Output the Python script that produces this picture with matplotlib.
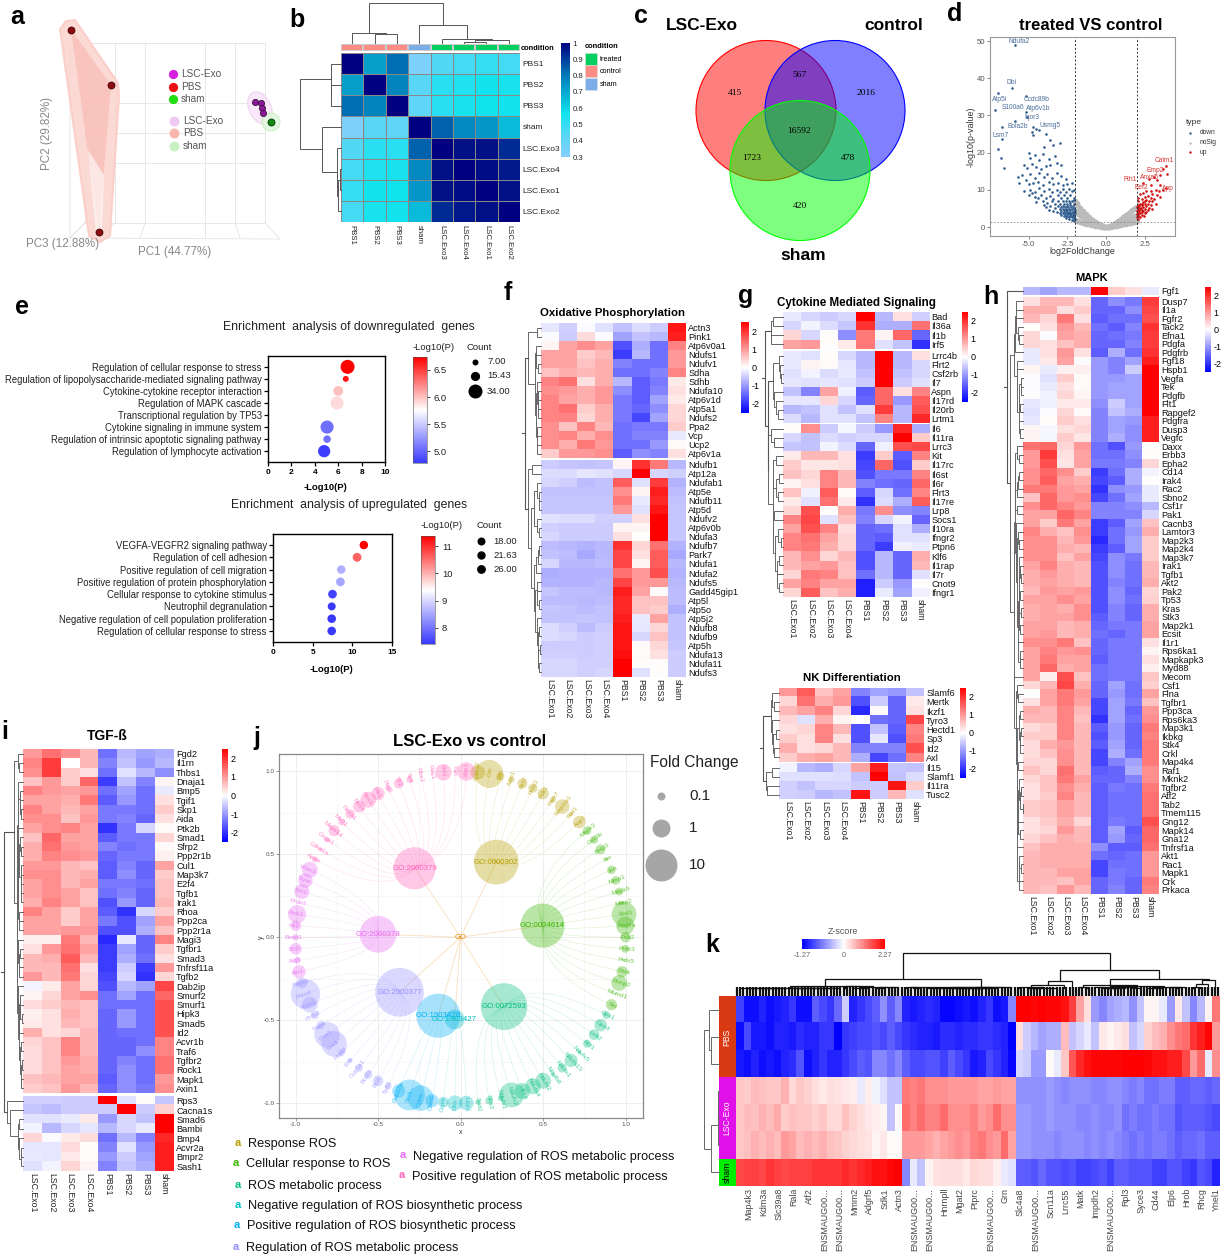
import numpy as np
import matplotlib
matplotlib.use('Agg')
from matplotlib import pyplot as plt
from matplotlib.colors import LinearSegmentedColormap, Normalize, TwoSlopeNorm, ListedColormap
from matplotlib.cm import ScalarMappable
from matplotlib.patches import Circle, Ellipse, Polygon, PathPatch, Rectangle
from matplotlib.path import Path

plt.rcParams['font.family'] = ['Liberation Sans', 'DejaVu Sans']
plt.rcParams['axes.unicode_minus'] = False

# panel a
pbs_x = [71, 111, 99]
pbs_y = [30, 85, 232]
exo_x = [255, 261, 262, 263]
exo_y = [102, 103, 108, 113]
sham_x = [271]
sham_y = [122]
a_legend = ['LSC-Exo', 'PBS', 'sham']

# panel b
b_labels = ['PBS1', 'PBS2', 'PBS3', 'sham', 'LSC.Exo3', 'LSC.Exo4', 'LSC.Exo1', 'LSC.Exo2']
b_corr = [[1, .72, .82, .33, .45, .47, .5, .47],
          [.72, 1, .78, .43, .52, .54, .56, .55],
          [.82, .78, 1, .41, .52, .55, .57, .56],
          [.33, .43, .41, 1, .84, .77, .74, .66],
          [.45, .52, .52, .84, 1, .97, .97, .93],
          [.47, .54, .55, .77, .97, 1, .98, .96],
          [.5, .56, .57, .74, .97, .98, 1, .97],
          [.47, .55, .56, .66, .93, .96, .97, 1]]
b_cond = [1, 1, 1, 2, 0, 0, 0, 0]

# panel c
venn_counts = ['415', '567', '2016', '16592', '1723', '478', '420']

# panel d
down_pts = [(-5.9,49),(-6.1,37.5),(-7,36),(-5.2,35.3),(-7.2,31.5),(-5.2,31),(-5.1,29.7),(-5.9,28.5),(-4.7,27),(-6.7,27),
 (-4.5,26.5),(-4.3,26),(-4.8,25.5),(-4.7,24.7),(-3.9,25),(-6.7,23.7),(-3.6,23.5),(-4.0,21.5),(-7.0,21),(-3.0,22.5),
 (-3.4,22),(-6.8,18.5),(-6.6,16),(-5.0,20),(-4.9,18.5),(-4.6,19.5),(-4.3,18),(-4.1,19.6),(-3.7,18.3),(-3.3,19),
 (-5.3,16.8),(-5.1,16),(-4.8,17),(-4.5,16.2),(-4.2,15.6),(-3.9,16.4),(-3.6,16.8),(-3.2,17.1),(-2.9,16.6),(-5.7,13.5),
 (-5.4,13.9),(-5.2,12.6),(-4.9,14.3),(-4.6,13.2),(-4.3,14.5),(-4.0,13.4),(-3.8,14.4),(-3.5,13.1),(-3.2,14.6),(-2.9,13.8),
 (-2.6,12.9),(-5.6,11.9),(-5.0,11.6),(-4.7,11.9),(-4.4,12.1),(-4.1,11.3),(-3.7,12.2),(-3.4,11.5),(-3.1,11.9),(-2.8,11.2),
 (-2.5,11.6),(-2.2,11.9),(-5.3,9.8),(-4.9,10.1),(-4.6,9.4),(-4.3,10.4),(-4.0,9.7),(-3.7,10.3),(-3.5,9.3),(-3.2,10.1),
 (-3.0,9.5),(-2.8,10.2),(-2.6,9.4),(-2.4,10.3),(-2.2,9.6),(-2.1,10.1),(-5.0,8.7),(-4.6,8.1),(-4.2,8.6),(-3.9,7.9),
 (-3.6,8.4),(-3.4,7.6),(-3.1,8.6),(-2.9,7.8),(-2.7,8.5),(-2.5,7.7),(-2.3,8.6),(-2.1,7.9),(-4.5,6.8),(-4.1,7.1),
 (-3.8,6.4),(-3.5,6.9),(-3.3,6.2),(-3.1,7.0),(-3.0,6.3),(-2.8,6.9),(-2.7,6.1),(-2.6,7.0),(-2.5,6.3),(-2.4,7.1),
 (-2.3,6.5),(-2.2,7.0),(-2.1,6.2),(-2.05,7.2),(-3.9,5.3),(-3.6,5.6),(-3.3,5.1),(-3.1,5.6),(-3.0,4.9),(-2.9,5.5),
 (-2.8,4.8),(-2.75,5.6),(-2.7,4.6),(-2.65,5.4),(-2.6,4.9),(-2.55,5.7),(-2.5,4.6),(-2.45,5.4),(-2.4,4.9),(-2.35,5.8),
 (-2.3,4.5),(-2.25,5.3),(-2.2,4.8),(-2.15,5.6),(-2.1,4.4),(-2.05,5.2),(-2.0,4.7),(-3.2,4.0),(-3.0,3.9),(-2.9,4.2),
 (-2.8,3.8),(-2.7,4.1),(-2.65,3.6),(-2.6,4.2),(-2.55,3.7),(-2.5,3.9),(-2.45,3.4),(-2.4,4.1),(-2.35,3.6),(-2.3,3.9),
 (-2.25,3.3),(-2.2,4.0),(-2.15,3.5),(-2.1,3.8),(-2.05,3.2),(-2.0,3.9),(-2.7,3.1),(-2.6,2.9),(-2.5,3.1),(-2.4,2.7),
 (-2.3,3.0),(-2.2,2.6),(-2.15,2.9),(-2.1,2.4),(-2.05,2.8),(-2.0,2.2),(-2.4,2.1),(-2.2,1.9),(-2.05,1.6),(-2.6,2.4),
 (-2.9,3.3),(-3.4,4.4),(-3.7,4.6),(-4.0,6.0),(-4.4,7.7),(-4.8,9.2)]
up_pts = [(3.85,16.5),(3.7,15.6),(3.95,14.4),(3.5,14.1),(3.1,13.4),(3.3,12.6),(2.75,12.9),(2.4,11.9),(2.9,11.3),(3.5,11.2),
 (3.9,10.6),(3.2,10.1),(2.6,9.8),(3.7,9.9),(3.4,9.7),(2.9,9.6),(2.4,9.2),(2.2,8.9),(3.0,8.8),(3.3,8.5),
 (3.5,8.0),(2.7,8.3),(2.5,8.1),(2.1,7.9),(2.9,7.7),(3.1,7.6),(2.3,7.5),(2.6,7.2),(2.8,7.1),(3.0,6.9),
 (2.1,6.9),(2.4,6.8),(3.2,6.3),(2.2,6.3),(2.5,6.2),(2.7,6.3),(2.9,6.0),(2.05,6.0),(2.3,5.9),(2.6,5.6),
 (2.0,5.5),(2.15,5.6),(2.4,5.3),(2.8,5.2),(3.0,4.8),(2.05,5.0),(2.2,4.9),(2.5,4.8),(2.7,4.5),(2.1,4.6),
 (2.3,4.5),(2.0,4.3),(2.15,4.2),(2.35,4.1),(2.5,3.9),(2.05,3.9),(2.2,3.8),(2.0,3.5),(2.1,3.4),(2.3,3.3),
 (2.45,3.0),(2.05,2.9),(2.2,2.6),(2.1,2.2),(2.0,2.6),(2.6,4.0),(2.4,4.4),(2.25,5.2),(2.55,6.9),(2.35,6.3)]
gray_x = [-2,-1.9,-1.8,-1.7,-1.6,-1.5,-1.4,-1.3,-1.2,-1.1,-1,-.9,-.8,-.7,-.6,-.5,-.4,-.3,-.2,-.1,0,
          .1,.2,.3,.4,.5,.6,.7,.8,.9,1,1.1,1.2,1.3,1.4,1.5,1.6,1.7,1.8,1.9,2]
gray_hi = [7,6.4,5.6,5.2,4.7,4.2,3.9,3.4,3,2.6,2.3,2,1.7,1.4,1.1,.9,.65,.45,.25,.1,.05,
           .1,.2,.4,.6,.85,1.1,1.4,1.7,2,2.3,2.6,3,3.3,3.6,3.9,4.2,4.5,4.8,5.1,5.4]
gray_mid = [4.3,4,3.6,3.2,2.9,2.6,2.3,2.1,1.9,1.6,1.4,1.2,1,.85,.7,.55,.4,.28,.15,.07,.03,
            .07,.13,.25,.38,.52,.68,.85,1,1.25,1.4,1.6,1.85,2,2.2,2.4,2.6,2.8,3,3.1,3.3]
gray_lo = [1.8,1.7,1.6,1.4,1.3,1.2,1.05,.95,.85,.75,.65,.55,.45,.4,.32,.25,.18,.12,.07,.03,.01,
           .03,.06,.11,.17,.24,.31,.38,.46,.55,.65,.72,.82,.92,1,1.1,1.18,1.28,1.36,1.45,1.55]
d_gene = ['Ndufa2','Dbi','Ccdc89b','Atp5i','S100a6','Atp6v1b','Iqor3','Bola2b','Usmg5','Lsm7']
d_gene_x = [-5.6,-6.1,-4.5,-6.9,-6.0,-4.4,-4.8,-5.7,-3.6,-6.8]
d_gene_y = [50,38.8,34.4,34.4,32.2,32,29.5,27,27.2,24.7]
u_gene = ['Calm1','Emp2','Fth1','Anxa5','Eef2','App']
u_gene_x = [3.75,3.2,1.55,2.8,2.3,4.0]
u_gene_y = [17.8,15.3,12.9,13.2,10.7,10.5]

# panel e
e1_terms = ['Regulation of cellular response to stress','Regulation of lipopolysaccharide-mediated signaling pathway',
            'Cytokine-cytokine receptor interaction','Regulation of MAPK cascade','Transcriptional regulation by TP53',
            'Cytokine signaling in immune system','Regulation of intrinsic apoptotic signaling pathway',
            'Regulation of lymphocyte activation']
e1_p = [6.8,6.65,6.0,5.9,5.75,5.05,5.05,4.8]
e1_count = [34,7,20,31,22,31,12,28]
e2_terms = ['VEGFA-VEGFR2 signaling pathway','Regulation of cell adhesion','Positive regulation of cell migration',
            'Positive regulation of protein phosphorylation','Cellular response to cytokine stimulus',
            'Neutrophil degranulation','Negative regulation of cell population proliferation',
            'Regulation of cellular response to stress']
e2_p = [11.45,10.6,8.6,8.5,7.5,7.4,7.4,7.4]
e2_count = [23,26,23,25,25,18,24,24]

cols_exo = ['LSC.Exo1','LSC.Exo2','LSC.Exo3','LSC.Exo4','PBS1','PBS2','PBS3','sham']

# panel f
f_genes1 = ['Actn3','Pink1','Atp6v0a1','Ndufs1','Ndufv1','Sdha','Sdhb','Ndufa10','Atp6v1d','Atp5a1','Ndufs2','Ppa2','Vcp','Ucp2','Atp6v1a']
f_vals1 = [[-.25,-.45,-.05,-.3,-.6,-.35,-.5,2.3],[-.05,-.5,.35,-.05,-.9,-.6,-.7,2.2],[.1,.9,1.1,.9,-1.7,-.8,-1.4,1.2],
 [.9,.9,.5,.7,-1.9,-.7,-1.4,1],[.9,.9,.6,.8,-1.2,-1.4,-1.4,1],[.6,.8,.7,.8,-1.4,-1.4,-1.2,1.2],[1.2,1.4,.3,.8,-.7,-1.6,-1.3,.2],
 [1.1,1,.8,1,-1.1,-1.6,-1.2,.3],[1.2,.9,.8,1,-1.3,-1.6,-.9,.2],[1.2,1.4,.5,.8,-1.3,-1.5,-1.1,.4],[1.2,1.2,.4,.8,-1.3,-1.8,-.9,.4],
 [1.1,.6,1.2,.7,-1.4,-1.3,-1.3,.5],[1.1,1.2,.8,1.1,-1.4,-1.2,-1.2,-.2],[1.1,.8,1.3,1,-1.4,-1.4,-1,.05],[.5,1,1,1.1,-1.6,-1.1,-1.2,.3]]
f_genes2 = ['Ndufb1','Atp12a','Ndufab1','Atp5e','Ndufb11','Atp5d','Ndufv2','Atp6v0b','Ndufa3','Ndufb7','Park7','Ndufa1','Ndufa2','Ndufs5',
            'Gadd45gip1','Atp5l','Atp5o','Atp5j2','Ndufb8','Ndufb9','Atp5h','Ndufa13','Ndufa11','Ndufs3']
f_vals2 = [[-.5,-.55,-.6,-.55,.1,2,1.3,-.7],[-.35,-.35,-.25,-.3,-.4,2.5,-.4,-.45],[-.4,-.45,-.65,-.6,1.6,-.3,1.9,-.75],
 [-.6,-.6,-.6,-.6,1.1,.1,2.2,-.65],[-.55,-.55,-.55,-.55,1.3,-.2,2.1,-.6],[-.55,-.55,-.55,-.55,1,-.3,2.3,-.55],
 [-.3,-.35,-.35,-.45,-.45,.3,2.5,-.55],[-.45,-.5,-.5,-.5,.1,.1,2.5,-.55],[-.4,-.5,-.5,-.5,.3,0,2.5,-.55],
 [-.65,-.7,-.75,-.7,2,.4,1.4,-.75],[-.6,-.65,-.85,-.7,1.8,.3,1.6,-.85],[-.4,-.7,-.7,-.65,1.8,.1,1.6,-.7],
 [-.8,-.75,-.75,-.75,1.4,1,1.7,-.75],[-.75,-.75,-.75,-.7,1.8,1,1,-.7],[-.55,-.65,-.65,-.7,2.2,.9,.05,-.65],
 [-.65,-.65,-.7,-.65,2.1,.6,.6,-.65],[-.55,-.6,-.65,-.6,2.1,.6,.5,-.8],[-.6,-.6,-.55,-.6,2.2,-.2,.9,-.6],
 [-.35,-.45,-.65,-.5,2.3,-.25,.4,-.6],[-.35,-.4,-.5,-.45,2.3,-.4,.6,-.6],[-.5,-.5,-.5,-.45,2.3,.05,.4,-.55],
 [-.45,-.45,-.5,-.45,2.35,.05,.3,-.5],[-.4,-.4,-.45,-.45,2.5,.02,.02,-.5],[-.4,-.4,-.45,-.4,2.5,-.3,.02,-.5]]

# panel g
g_genes1 = ['Bad','Il36a','Il1b','Irf5']
g_vals1 = [[-.2,-.4,-.5,-.4,2.5,-.7,.3,-.45],[-.4,-.1,-.35,-.55,2,-.8,-.8,1.4],[.4,-.4,.02,-1.1,1.3,.1,1.5,-1.5],[.9,1,.03,.2,1.3,-.3,-.6,-2]]
g_genes2 = ['Lrrc4b','Flrt2','Csf2rb','Il7','Aspn','Il17rd','Il20rb','Lrtm1']
g_vals2 = [[-.2,-.3,.03,-.4,-.7,2.5,-.7,.3],[-.2,.1,.05,-.25,-.7,2.5,-.7,-.4],[-.3,-.1,-.35,-.2,-.6,2.5,-.6,-.4],[-.25,-.3,-.25,-.3,-.5,2.5,-.5,-.3],
 [-.6,-1.2,.9,-.15,-1.6,1.5,.3,1.2],[-.25,-.25,.4,-.4,-1.5,1.5,-1,1.6],[-.7,-.6,-.3,-.6,-.3,1.9,-.7,1.7],[-.35,-.7,-.3,-.3,-.6,1.2,-.7,2.1]]
g_genes3 = ['Il6','Il11ra','Lrrc3','Kit','Il17rc','Il6st','Il6r','Flrt3','Il17re','Lrp8','Socs1','Il10ra','Ifngr2','Ptpn6','Klf6','Il1rap','Il7r','Cnot9','Ifngr1']
g_vals3 = [[.03,1.1,-.5,-.08,-.5,-1,2.1,-.8],[-.4,-.6,-.35,-.45,-.4,-.4,2.5,.5],[-.55,-.6,-.1,-.35,-1.5,-.15,1.7,1.8],
 [.2,.7,.7,.3,-1.9,.5,-1.6,1.2],[.5,.25,.25,.3,-1.8,1.5,-1.7,.5],[.6,.4,1.2,.7,-1.7,-1.3,-1.3,1.2],[.1,.3,1.2,.7,-1.2,-1.4,-1.5,1.5],
 [.6,-.15,1.6,.05,-1.6,-.4,-1.4,1.2],[.2,-.3,1.4,.2,-2,-.35,-.8,1.6],[.4,1.7,.02,.8,-1.3,1.1,-1.1,-1.2],[1.2,1.8,-.3,.6,-1.2,-.4,-.1,-1.5],
 [.9,1.7,1.2,.3,-1.5,-1.4,-.3,-.8],[1.2,1.4,.9,.4,-1.5,-1.6,-.3,-.3],[1.2,1.3,.8,.4,-1.5,-1.9,-.15,-.2],[.7,1.1,.4,.7,-1.7,-.7,-1.5,.8],
 [.7,.9,1,.6,-1.7,-.7,-1.5,.7],[.4,1.3,1.2,.6,-1.4,-.7,-1.5,-.3],[.9,1.2,.9,.9,-2.2,-.5,-1,.03],[.4,1.6,.6,.8,-2.2,-.2,-.9,-.15]]

# NK differentiation
nk_genes1 = ['Slamf6','Mertk','Ikzf1','Tyro3','Hectd1','Sp3','Id2','Axl']
nk_vals1 = [[1,1.6,.6,.9,-1.2,-.9,-1,-.6],[.4,1.4,.8,1,-1.7,-.5,-1.5,.2],[.7,.9,1.2,.4,-2.1,.05,-1.5,.3],[.4,-.3,.8,.1,.02,-1.4,-1.5,1.8],
 [.3,.4,1.2,.7,-1.7,-.6,-1.6,1.2],[.5,.3,1.2,.3,-1.7,-.25,-1.7,1.3],[.8,.3,.4,.7,-1.2,-1.2,-1.2,1.7],[.5,.8,.9,.7,-.8,-1.8,-1.4,1.2]]
nk_genes2 = ['Il15','Slamf1','Il11ra','Tusc2']
nk_vals2 = [[-.1,-.7,-.8,-.4,.9,2.2,-.55,-.6],[-.3,-.3,-.3,-.35,-.6,2.5,-.6,-.35],[-.45,-.6,-.4,-.4,-.5,-.5,2.3,.5],[-.45,-.5,-.7,-.6,2.3,-.5,.7,-.3]]

# panel h
h_genes1 = ['Fgf1']
h_vals1 = [[-.7,-.9,-.7,-.7,2.5,.5,.3,-.2]]
h_genes2 = ['Dusp7','Il1a','Fgfr2','Tack2','Efna1','Pdgfa','Pdgfrb','Fgf18','Hspb1','Vegfa','Tek','Pdgfb','Flt1','Rapgef2','Pdgfra','Dusp3','Vegfc',
 'Daxx','Erbb3','Epha2','Cd14','Irak4','Rac2','Sbno2','Csf1r','Pak1','Cacnb3','Lamtor3','Map2k3','Map2k4','Map3k7','Irak1','Tgfb1','Akt2',
 'Pak2','Tp53','Kras','Stk3','Map2k1','Ecsit','Il1r1','Rps6ka1','Mapkapk3','Myd88','Mecom','Csf1','Flna','Tgfbr1','Ppp3ca','Rps6ka3','Map3k1',
 'Ikbkg','Stk4','Crkl','Map4k4','Raf1','Mknk2','Tgfbr2','Atf2','Tab2','Tmem115','Gng12','Mapk14','Gna12','Tnfrsf1a','Akt1','Rac1','Mapk1','Crk','Prkaca']
h_vals2 = [[.3,.7,.7,.3,-1.5,-1.1,-1.3,1.9],[.8,.8,.3,.5,-1.5,-1.5,-1.1,1.8],[.7,.4,1.3,.3,-1.6,-1.4,-1.4,1.7],[.02,.3,1,.7,-1.4,-1.6,-1.2,2],
 [.4,-.05,.9,.8,-1.5,-1.4,-1.3,1.9],[.4,.3,.6,.8,-1.5,-1.5,-1.2,1.9],[-.2,.3,1,.3,-1.6,-.8,-1.4,2],[-.2,.2,.9,-.02,-1,-1.2,-.9,2.2],
 [.1,-.2,.15,.15,-1,-1.2,-.5,2.5],[-.05,-.3,.5,.05,-1,-1,-.9,2.5],[-.03,-.2,.3,.05,-1,-.9,-.9,2.5],[-.03,-.1,.4,.1,-1,-.9,-.9,2.5],
 [-.25,-.15,.2,.2,-1.1,-.5,-.9,2.5],[-.3,-.05,.4,.05,-1.2,-.6,-.8,2.5],[-.25,.03,.5,.3,-1.2,-.9,-1,2.2],[.1,-.08,.3,.4,-1.2,-.9,-1.1,2.2],
 [.1,-.08,.5,.25,-1.2,-.8,-1.1,2.2],[1.4,1.5,.4,1,-1.4,-1.7,-1,.02],[1,1.9,.3,.9,-1.4,-1.4,-1.1,.02],[1,1.7,.25,.9,-1.3,-1.3,-1.2,.4],
 [1.1,1.5,1.1,.5,-1.9,-1.4,-.8,-.1],[1.1,1.6,.9,.8,-1.8,-1.6,-.8,.03],[1.3,1.3,1,.9,-2,-1.1,-1,-.2],[.6,1.5,1,1.1,-1.8,-1.4,-.9,-.2],
 [1.1,1.5,1.2,1,-1.2,-1.2,-1.1,-.7],[.9,.9,1.5,1.2,-1.2,-1.2,-1.2,-.4],[.9,.5,1.3,.9,-1.9,-1.6,-.9,.6],[1.2,.8,.6,1.1,-1.9,-1.4,-1,.8],
 [1.1,1.1,.7,1,-2.1,-1.4,-.9,.5],[1.1,1.1,.8,.7,-1.9,-1.6,-.9,.5],[1.1,1.1,.6,.9,-1.8,-1.1,-1.3,.5],[.9,1.2,.8,.7,-1.7,-1.1,-1.4,.7],
 [.8,1,.8,.7,-1.7,-1.1,-1.4,.7],[.8,.9,.8,.7,-1.7,-1.2,-1.4,.8],[.7,1,.9,1,-1.7,-1.1,-1.5,.4],[.9,.9,1.1,.9,-1.7,-1.1,-1.4,.45],
 [.8,.9,.8,1.1,-1.7,-1.2,-1.5,.8],[.8,.9,.9,1.1,-1.6,-1.2,-1.5,.8],[.9,.9,.7,.8,-1.5,-1.3,-1.3,.9],[.9,1,.7,.8,-1.4,-1.5,-1.3,.9],
 [1.1,1.1,1.3,.6,-1.5,-1.3,-1.3,.3],[.9,1.2,1,1.1,-1.5,-1.3,-1.3,.1],[.9,1.3,.9,.9,-1.6,-1.3,-1.3,.3],[.9,1.5,.8,.9,-1.4,-1.3,-1.3,.15],
 [.9,.15,1.7,.6,-1.4,-1.3,-1.3,.55],[.4,.7,1.8,.8,-1.5,-.9,-1.4,.45],[.01,.9,1.3,1,-1.5,-1,-1.4,.9],[.3,.9,1.3,.9,-1.8,-.9,-1.3,.6],
 [.8,.7,1.2,.7,-1.8,-.9,-1.5,1],[.7,.7,1.2,.6,-2,-.9,-1.4,1.1],[.35,.5,1.2,.7,-1.6,-1,-1.5,1.3],[.5,.5,1.2,.7,-1.7,-1,-1.5,1.2],
 [.35,.8,1,.7,-1.6,-.9,-1.5,1.3],[.35,.6,1.1,.7,-1.8,-.8,-1.4,1.3],[.4,.4,1.1,.7,-1.8,-1.2,-.9,1.3],[.6,.4,1.4,.7,-1.6,-1.5,-.8,1.1],
 [.4,.6,1.3,.9,-1.5,-1.5,-1.2,1.1],[.3,.6,1.1,.8,-1.6,-1.3,-1.4,1.3],[.3,.5,1.2,.7,-1.6,-1.4,-1.4,1.4],[.5,.6,.9,.7,-1.6,-1.4,-1.4,1.4],
 [.5,.6,.9,.7,-1.6,-1.4,-1.4,1.4],[.3,.5,.8,.4,-1.6,-1.3,-1.4,1.7],[.3,.4,1,.7,-1.6,-.9,-1.6,1.5],[.4,.6,.8,.7,-1.6,-1,-1.5,1.5],
 [.6,.8,.8,.8,-1.1,-1.6,-1.6,1.4],[.7,.8,.8,.8,-1.4,-1.5,-1.4,1],[.7,.8,.8,.8,-1.8,-1.4,-1.4,1],[.7,.7,.9,.9,-1.8,-1.3,-1.4,1],
 [.7,.7,.6,.9,-1.5,-1.3,-1.5,1.3],[.7,.6,1,.7,-1.5,-1.2,-1.5,1.2]]

# panel i
i_genes1 = ['Fgd2','Il1rn','Thbs1','Dnaja1','Bmp5','Tgif1','Skp1','Aida','Ptk2b','Smad1','Sfrp2','Ppp2r1b','Cul1','Map3k7','E2f4','Tgfb1','Irak1',
 'Rhoa','Ppp2ca','Ppp2r1a','Magi3','Tgfbr1','Smad3','Tnfrsf11a','Tgfb2','Dab2ip','Smurf2','Smurf1','Hipk3','Smad5','Id2','Acvr1b','Traf6','Tgfbr2','Rock1','Mapk1','Axin1']
i_vals1 = [[1,1.4,1.1,.7,-1.4,-.7,-.9,-.8],[1.2,1.9,.01,.7,-1.2,-.6,-1,-.7],[1.1,1.9,.5,.3,-1.4,-.3,-.7,-1.1],[.6,1,.5,1.5,-1.9,-.6,-1.2,.1],
 [1.2,1,.9,1,-1.4,-.9,-1.4,-.2],[.9,.9,.8,1.3,-1.6,-1,-1.4,.3],[1.2,.9,.7,.9,-1.3,-1.3,-1.4,.5],[1.1,1.1,.6,1,-1.3,-1.2,-1.5,.3],
 [.9,1.1,1.2,.9,-2,-1.3,-.4,.05],[.6,1.5,.9,.9,-1.6,-1.3,-1.3,.4],[.8,1.4,1,.9,-1.2,-1.4,-1.3,.05],[.8,1.2,1.1,1,-1.5,-1.3,-1.3,.15],
 [1,1,.7,.6,-1.6,-1.2,-1.5,.9],[1.1,1.1,.7,.8,-1.6,-1.1,-1.5,.5],[.9,1.1,.7,.9,-1.3,-1.3,-1.4,.6],[.9,1.1,.9,.6,-1.4,-1.2,-1.5,.6],
 [.8,1.2,.9,.6,-1.7,-1,-1.5,.7],[1.2,.9,.5,.9,-1.6,-2,-.4,.5],[.9,.9,.5,.9,-1.3,-1.7,-.9,.9],[.9,.9,1,1,-1.7,-1.7,-.8,.6],
 [.15,.15,1.3,.7,-2.1,-.2,-1.5,1.2],[.3,1,1.4,.9,-1.9,-.9,-1.5,.5],[.7,.8,1.6,.7,-1.9,-.8,-1.4,.3],[.7,.7,1.4,.3,-1.9,-.5,-1.9,1],
 [1,.7,1.3,.4,-1.8,-.4,-2,.4],[-.1,.2,.9,.4,-1.7,-.7,-.9,1.8],[.1,.4,.9,1.1,-1.4,-.9,-1.4,1.5],[.35,.5,.7,.6,-1.4,-1.4,-1.4,1.7],
 [.15,.3,.8,.6,-1.5,-1,-1.4,1.7],[.2,.3,.7,.6,-1.5,-1,-1.4,1.7],[.8,.3,.4,.7,-1.5,-1.4,-1.4,1.7],[.4,.6,1.2,.7,-1.5,-1.5,-1.4,1.2],
 [.35,.6,1.2,.7,-1.5,-1.5,-1.1,1.2],[.35,.6,1,.8,-1.5,-1.2,-1.4,1.4],[.35,.6,.9,.8,-1.5,-1.1,-1.4,1.4],[.6,.7,.9,.9,-1.6,-1.1,-1.4,1],[.5,.6,1,.7,-1.5,-1.1,-1.3,1.1]]
i_genes2 = ['Rps3','Cacna1s','Smad6','Bambi','Bmp4','Acvr2a','Bmpr2','Sash1']
i_vals2 = [[-.45,-.45,-.5,-.5,2.5,-.3,.03,-.55],[-.55,-.65,-.5,-.5,-.5,2.5,-.5,.45],[-.3,-.3,-.2,.2,-1,-.4,-.6,2.5],[-.1,-.7,-.4,-.25,-.7,-.4,-.2,2.5],
 [.4,-.05,.2,.35,-1.4,-.7,-1.2,2.1],[-.25,-.25,.35,.02,-1.2,-.3,-1,2.2],[-.2,-.25,.2,.02,-1,-.5,-.9,2.2],[-.3,-.1,.4,.1,-1.2,-.55,-.8,2.2]]

# panel j
parent_names = ['GO:0000302','GO:0034614','GO:0072593','GO:1903427','GO:1903428','GO:2000377','GO:2000378','GO:2000379']
parent_x = [.216,.497,.263,-.036,-.135,-.37,-.50,-.279]
parent_y = [.453,.07,-.418,-.495,-.473,-.332,.018,.416]
parent_size = [13.5,13.3,14.1,6,13.3,14.7,11.1,12.7]
group_colors = ['#b79f00','#39b600','#00bf7d','#00bfc4','#00b0f6','#9590ff','#e76bf3','#ff62bc']
group_counts = [11,17,15,3,4,13,10,17]
leaf_names = ['Ankrd2','Cat','Gsr','Aifm1','Ncf2','Prdx3','Pdk1','Park7','Serpine1','Sod1','Aqp1',
 'Mapk3','Gsk3b','Bnip3','Fer','Jun','Mmp1','Mapk9','Mmp2','Sod1','Pdgfra','Pdk2','Prdx3','Prdx5','Pbrk','Prmp2','Mcmd1','Skt',
 'Gpx1','Gpx4','Lrrk2','Ncf1','Ndufs5','Ndufa13','Ndufs1','Ndufb8','Ndufs2','Ndufa4','Hif1a','Ndufv2','Ndufv1','Nos2','Sod2',
 'Ucp1','Dhx','Crym','Cldn5','Cyba','Sirt1','Rab27a',
 'Tp53','Bcl2','Bcl2l1','Cyp1a1','Eif6','Ptgs2','Fos1','Pon3','Nqo1','Prdx2','Prdx1','Prkcd','Rack1',
 'Akt1','Atg5','Bcl2','Becn1','Hk2','Pink1','Prdx3','Sirt3','Tigar','Vdac1',
 'Apoa','Cdkn1a','Cnga1','Mapk14','Mir21','Noxa1','Nox4','Nox1','Plk1','Pkd1','Tlr2','Tlr4','Rbx1','Rac1','Sirt1','Txn','Xbp1']
leaf_size = [4.4,8.5,2.4,1.8,3,2.8,3.4,1.8,4.4,1.4,3.8,
 2.6,2.4,3,1,2.6,2.6,2.4,1.2,7.5,5.5,3.2,2.4,.8,3.4,4.8,.6,3.4,
 2.4,3.8,3.2,2.4,1.2,4,2.8,1.2,4.8,4.8,4.8,7.5,1.6,2.4,1.6,
 4.4,4.6,3.2,4,7.7,9.3,4,
 2,3.2,2.4,2.4,1.4,2,7.7,7.7,2.4,2.4,4.8,8.9,3.2,
 4,2,3.6,2,3.2,5.5,.6,4.6,4.4,4.8,
 1.8,1.2,1.6,3.4,2,2.8,3.6,4.8,4,1.8,3,2,.4,.6,5,.8,5.6]
j_legend1 = ['Response ROS','Cellular response to ROS','ROS metabolic process','Negative regulation of ROS biosynthetic process',
             'Positive regulation of ROS biosynthetic process','Regulation of ROS metabolic process']
j_legend2 = ['Negative regulation of ROS metabolic process','Positive regulation of ROS metabolic process']
fc_labels = ['0.1','1','10']

# panel k
k_genes = ['Map4k3','Kdm3a','Slc39a8','Rala','Atf2','ENSMAUG00...','ENSMAUG00...','Mmm2','Adgrf5','Sdk1','Actn3','ENSMAUG00...','ENSMAUG00...',
           'Hnrnpll','Mgat2','Ptprc','ENSMAUG00...','Grn','Slc4a8','ENSMAUG00...','Scn11a','Lrrc55','Matk','Impdh2','ENSMAUG00...','Rpl3','Syce3','Cd44','Elp6','Hrob','Rhcg','Ynel1']
k_p1 = [-.95,-1.2,-1.2,-1.1,-1.2,-1.15,-1.1,-1,-1.2,-1.2,-.8,-.9,-1,-.75,-.25,-1.1,-1,-.9,-.8,-.55,-.8,-.6,
 -1.1,-1.15,-1.1,-1.05,-1.1,-1.25,-1.25,-1.2,-1.15,-1.2,-1.1,-1,-1.2,-1.15,-.6,
 2.27,2.27,2.2,2.27,2.2,2.2,2.1,1.7,.8,.3,-.5,-.6,-.45,-.4,-.35,-.55,-.3,.1,.1,-.1,-.5,.2,-.3,-.6,-.35,.1,1.2]
k_p2 = [-1.2,-.9,-1.15,-1.15,-1.2,-1.1,-1.1,-1.15,-1.05,-1.1,-1.1,-1,-1,-1.27,-1,-.95,-.9,-.9,-.85,-.9,-.8,-.9,
 -1,-1.05,-1.1,-1.1,-1.15,-1.05,-1.05,-1.1,-1.05,-1.05,-1,-1,-1.05,-1.1,-1.27,
 .3,-.25,-.35,-.45,-.4,-.4,.6,-.3,-.2,-.1,-.3,.2,.1,.2,.3,-.3,-.2,.4,.6,.7,1,1.2,1.3,1.8,2,2.2,.9]
k_p3 = [-1.15,-1.2,-1.1,-1.2,-1.15,-1.2,-1.1,-1.05,-.85,-1.2,-1.1,-1,-1.1,-1.1,-1,-.9,-.8,-.85,-.6,-.6,-.7,-.6,
 -.8,-.9,-.9,-.85,-.85,-.95,-.8,-.9,-1,-1.15,-1.1,-.9,-1,-1.1,-1.25,
 -.2,-.25,-.5,-.5,.05,-.1,.5,1.5,1.9,2.1,2.2,2.2,2.2,2.2,2.27,2.27,2.27,2.2,2.1,2.1,2,2,1.6,.9,1.3,-.1,1]
k_e1 = [.5,.45,.6,.55,.5,.5,.7,.35,.5,.4,.3,.2,.3,.25,.2,.15,-.1,.15,-.05,-.15,-.3,-.3,
 1.2,1.1,1.2,1,1,1,.9,.9,.9,.9,.8,.8,.9,.8,.8,
 -.55,-.55,-.55,-.55,-.5,-.55,-.6,-.55,-.55,-.55,-.6,-.6,-.55,-.55,-.6,-.65,-.6,-.7,-.7,-.65,-.65,-.8,-.8,-.75,-.75,-.8,-.75]
k_e2 = [.5,.6,.55,.7,.6,.75,.45,.55,.5,.5,.4,.5,.35,.35,.55,.4,.3,.2,.15,.1,-.3,.05,
 1.3,1.1,1.3,1.1,1.1,1.3,1,1,1,1.1,.9,1,1.3,1,1,
 -.5,-.5,-.55,-.55,-.5,-.55,-.55,-.55,-.6,-.6,-.55,-.6,-.6,-.55,-.7,-.65,-.7,-.7,-.65,-.7,-.7,-.85,-.8,-.8,-.8,-.85,-.9]
k_e3 = [.5,.55,.7,.6,.7,.6,.9,.8,.6,.7,.6,.7,.55,.5,.4,.35,.3,.25,.1,.2,.05,.05,
 .9,.9,.9,.8,.7,.8,.9,1,.9,1.1,1.2,1,.9,1.3,.8,
 -.5,-.5,-.55,-.55,-.55,-.6,-.55,-.55,-.55,-.6,-.55,-.6,-.55,-.6,-.65,-.7,-.65,-.7,-.65,-.65,-.7,-.8,-.75,-.75,-.7,-.8,-.8]
k_sham = [1.6,1.7,1.7,1.6,1.8,1.7,1.6,1.7,1.7,1.7,1.8,1.8,1.8,1.8,1.9,1.8,1.9,2,2.1,2.1,2.2,2.27,
 -.6,-.1,-.3,.1,.25,.3,.3,.3,.2,.35,.3,.3,.15,-.1,-.15,
 -.8,-.8,-.85,-.75,-.85,-.85,-.9,-.85,-.95,-.95,-.9,-.85,-.95,-.8,-.8,-.85,-.85,-.85,-.95,-.95,-.85,-.85,-.95,-1,-.85,-.9,-1.1]

W, H = 1228, 1258
fig = plt.figure(figsize=(W / 100, H / 100), dpi=100)


def px_axes(x0, y0, x1, y1):
    return fig.add_axes([x0 / W, 1 - y1 / H, (x1 - x0) / W, (y1 - y0) / H])


over = px_axes(0, 0, W, H)
over.set_xlim(0, W)
over.set_ylim(H, 0)
over.axis('off')
over.set_zorder(10)


def txt(x, y, s, size=6.5, ha='left', va='center', **kw):
    over.text(x, y, s, fontsize=size, ha=ha, va=va, **kw)


for letter, lx, ly in [('a', 17, 17), ('b', 297, 20), ('c', 641, 16), ('d', 955, 14), ('e', 22, 307), ('f', 508, 293),
                       ('g', 746, 296), ('h', 991, 297), ('i', 5, 732), ('j', 257, 738), ('k', 712, 945)]:
    txt(lx, ly, letter, size=18, ha='center', fontweight='bold')


# merge neighbouring rows only, so the tree fits the drawn order
def cluster(vals):
    vals = np.asarray(vals, float)
    nodes = [dict(pos=float(i), h=0.0, mean=vals[i], n=1) for i in range(len(vals))]
    segs = []
    while len(nodes) > 1:
        d = [np.linalg.norm(nodes[i]['mean'] - nodes[i + 1]['mean']) for i in range(len(nodes) - 1)]
        i = int(np.argmin(d))
        a, b = nodes[i], nodes[i + 1]
        h = max(d[i], a['h'], b['h'])
        segs.append((a['pos'], a['h'], b['pos'], b['h'], h))
        n = a['n'] + b['n']
        nodes[i:i + 2] = [dict(pos=(a['pos'] + b['pos']) / 2, h=h, mean=(a['mean'] * a['n'] + b['mean'] * b['n']) / n, n=n)]
    return segs, nodes[0]['pos'], nodes[0]['h']


def draw_tree(segs, f, color='#666666', lw=0.7):
    for p1, h1, p2, h2, h in segs:
        pts = [f(p1, h1), f(p1, h), f(p2, h), f(p2, h2)]
        over.plot([q[0] for q in pts], [q[1] for q in pts], color=color, lw=lw, solid_joinstyle='miter')


hm_cmap = LinearSegmentedColormap.from_list('hm', ['#0000ff', '#ffffff', '#ff0000'])


def heat_panel(x0, x1, xd, blocks, title, title_xy, cbar, title_size=8, col_names=cols_exo):
    trees = [cluster(b[0]) for b in blocks]
    hmax = max(max(t[2] for t in trees), 1e-6)
    xlow = xd + 0.18 * (x0 - xd)
    roots = []
    for k, (vals, genes, y0, y1) in enumerate(blocks):
        ax = px_axes(x0, y0, x1, y1)
        ax.imshow(vals, cmap=hm_cmap, vmin=-2.5, vmax=2.5, aspect='auto', interpolation='nearest')
        for s in ax.spines.values():
            s.set_visible(False)
        ax.yaxis.tick_right()
        ax.set_yticks(range(len(genes)))
        ax.set_yticklabels(genes, fontsize=6.6, color='#111111')
        ax.tick_params(length=0, pad=1.5)
        if k == len(blocks) - 1:
            ax.set_xticks(range(len(col_names)))
            ax.set_xticklabels(col_names, rotation=270, fontsize=6.3, color='#222222')
        else:
            ax.set_xticks([])
        step = (y1 - y0) / len(genes)
        fn = lambda p, h, y0=y0, step=step: (x0 - (x0 - xlow) * (h / hmax) ** 0.8, y0 + (p + .5) * step)
        draw_tree(trees[k][0], fn)
        roots.append(fn(trees[k][1], trees[k][2]))
    cx, cy = roots[-1]
    for k in range(len(roots) - 2, -1, -1):
        xn = xd + 3 * k
        rx, ry = roots[k]
        over.plot([cx, xn, xn, rx], [cy, cy, ry, ry], color='#555555', lw=0.8)
        cx, cy = xn, (cy + ry) / 2
    over.plot([cx, xd - 3], [cy, cy], color='#555555', lw=0.8)
    txt(title_xy[0], title_xy[1], title, size=title_size, ha='center', fontweight='bold')
    cax = px_axes(*cbar)
    cb = fig.colorbar(ScalarMappable(Normalize(-2.5, 2.5), hm_cmap), cax=cax, ticks=[-2, -1, 0, 1, 2])
    cb.outline.set_visible(False)
    cb.ax.tick_params(length=0, labelsize=6.5, pad=2)


# a
ax_a = px_axes(40, 10, 290, 262)
ax_a.set_xlim(40, 290)
ax_a.set_ylim(262, 10)
ax_a.axis('off')
grid_c = '#e4e4e4'
for gx in [85, 115, 145, 205, 235, 265]:
    ax_a.plot([gx, gx], [43, 223], color=grid_c, lw=0.6)
for gy in [43, 103, 133, 163, 223]:
    ax_a.plot([85, 265], [gy, gy], color=grid_c, lw=0.6)
ax_a.plot([70, 85], [30, 43], color=grid_c, lw=0.6)
ax_a.plot([70, 70, 85], [30, 238, 223], color=grid_c, lw=0.6)
ax_a.plot([70, 280], [238, 239], color=grid_c, lw=0.6)
ax_a.plot([265, 280], [223, 239], color=grid_c, lw=0.6)
for gx0, gx1 in [(85, 70), (115, 100), (145, 140), (205, 205), (235, 240)]:
    ax_a.plot([gx0, gx1], [223, 238], color=grid_c, lw=0.6)
ax_a.add_patch(Rectangle((167, 66), 60, 88, fc='white', ec='none', zorder=1.5))
ax_a.add_patch(Polygon([(60, 29), (66, 21), (75, 20), (118, 83), (119, 96), (110, 236), (100, 242), (89, 236)],
                       fc='#fbd3cd', ec='#fbcbc4', alpha=.85, lw=1.5, joinstyle='round', zorder=2))
ax_a.add_patch(Polygon([(71, 30), (111, 85), (99, 232)], fc='#f8b0a7', ec='none', alpha=.5, zorder=2.1))
ax_a.add_patch(Polygon([(88, 150), (104, 175), (102, 232), (96, 232)], fc='white', ec='none', alpha=.6, zorder=2.2))
ax_a.scatter(pbs_x, pbs_y, s=26, c='#8b0a12', edgecolors='#3a0000', linewidths=.5, zorder=4)
ax_a.add_patch(Ellipse((260, 108), 22, 34, angle=-25, fc='#f7e4f9', ec='#eccdf1', alpha=.85, lw=.8, zorder=2))
ax_a.add_patch(Circle((271, 122), 9, fc='#e0f8dc', ec='#c4f0bc', alpha=.85, lw=.8, zorder=2.5))
ax_a.scatter(exo_x, exo_y, s=20, c='#8a1a9a', edgecolors='#2a002a', linewidths=.5, zorder=4)
ax_a.scatter(sham_x, sham_y, s=26, c='#118a11', edgecolors='#002200', linewidths=.5, zorder=4)
for name, ly, lc in zip(a_legend, [74, 87, 99], ['#d61fe0', '#ee1111', '#22dd11']):
    ax_a.scatter([173], [ly], s=32, c=lc, zorder=5)
    ax_a.text(181, ly, name, fontsize=7.2, va='center', color='#555555', zorder=5)
for name, ly, lc in zip(a_legend, [121, 133, 146], ['#f0c8f4', '#f9b6ae', '#c8f0c0']):
    ax_a.scatter([174], [ly], s=38, c=lc, zorder=5)
    ax_a.text(183, ly, name, fontsize=7.2, va='center', color='#555555', zorder=5)
txt(47, 134, 'PC2 (29.82%)', size=8.4, ha='center', rotation=90, color='#888888')
txt(63, 244, 'PC3 (12.88%)', size=8.4, ha='center', color='#888888')
txt(175, 252, 'PC1 (44.77%)', size=8.4, ha='center', color='#888888')

# b
b_cmap = LinearSegmentedColormap.from_list('b', [(0, '#87cefa'), (.2, '#55d7f6'), (.38, '#10e4ee'), (.72, '#0079b8'), (1, '#000080')])
ax_b = px_axes(341, 53, 520, 222)
ax_b.pcolormesh(np.array(b_corr), cmap=b_cmap, vmin=.3, vmax=1, edgecolors='#888888', linewidth=.5)
ax_b.set_ylim(8, 0)
ax_b.yaxis.tick_right()
ax_b.set_yticks(np.arange(8) + .5)
ax_b.set_yticklabels(b_labels, fontsize=6)
ax_b.set_xticks(np.arange(8) + .5)
ax_b.set_xticklabels(b_labels, rotation=270, fontsize=5.6)
ax_b.tick_params(length=0, pad=2, colors='#222222')
for s in ax_b.spines.values():
    s.set_visible(False)
b_colors = ['#00d060', '#fb8d84', '#7cade8']
ax_bb = px_axes(341, 44, 520, 51)
ax_bb.pcolormesh([b_cond], cmap=ListedColormap(b_colors), vmin=0, vmax=2, edgecolors='#cccccc', linewidth=.3)
ax_bb.axis('off')
txt(521, 48, 'condition', size=5.4, fontweight='bold')
b_tree, b_p, b_h = cluster(b_corr)
b_max = b_h
draw_tree(b_tree, lambda p, h: (341 + (p + .5) * 179 / 8, 43 - 40 * (h / b_max) ** 1.2), color='#555555')
draw_tree(b_tree, lambda p, h: (341 - 41 * (h / b_max) ** 1.2, 53 + (p + .5) * 169 / 8), color='#555555')
cax_b = px_axes(561, 43, 570, 157)
cb_b = fig.colorbar(ScalarMappable(Normalize(.3, 1), b_cmap), cax=cax_b, ticks=[.3, .4, .5, .6, .7, .8, .9, 1])
cb_b.ax.set_yticklabels(['0.3', '0.4', '0.5', '0.6', '0.7', '0.8', '0.9', '1'])
cb_b.ax.tick_params(length=0, labelsize=5.6, pad=2, labelcolor='#222222')
cb_b.outline.set_visible(False)
txt(585, 47, 'condition', size=5.4, fontweight='bold')
for name, c, ly in zip(['treated', 'control', 'sham'], b_colors, [53, 65, 78]):
    over.add_patch(Rectangle((585, ly), 12, 12, fc=c, ec='#dddddd', lw=.4))
    txt(600, ly + 6.5, name, size=5.2)

# c
ax_c = px_axes(690, 35, 910, 245)
ax_c.set_xlim(690, 910)
ax_c.set_ylim(245, 35)
ax_c.axis('off')
for cx, cy, c in [(766, 110.5, '#ff0000'), (835, 110.5, '#0000ff'), (800, 170.5, '#00ff00')]:
    ax_c.add_patch(Circle((cx, cy), 70, fc=c, ec='none', alpha=.5))
    ax_c.add_patch(Circle((cx, cy), 70, fc='none', ec=c, lw=.8))
for s, vx, vy in zip(venn_counts, [735, 800, 866, 799, 752, 848, 800], [93, 75, 93, 131, 158, 158, 206]):
    txt(vx, vy, s, size=6.8, ha='center', family='Liberation Serif')
txt(702, 26, 'LSC-Exo', size=12.5, ha='center', fontweight='bold')
txt(894, 26, 'control', size=12.5, ha='center', fontweight='bold')
txt(803, 255, 'sham', size=12.5, ha='center', fontweight='bold')

# d
ax_d = px_axes(990, 37, 1175, 236)
ax_d.set_xlim(-7.5, 4.46)
ax_d.set_ylim(-2.4, 51.1)
for gy in [gray_hi, gray_mid, gray_lo]:
    ax_d.scatter(gray_x, gy, s=16, c='#bbbbbb', linewidths=0)
dn = np.array(down_pts)
up = np.array(up_pts)
ax_d.scatter(dn[:, 0], dn[:, 1], s=3.5, c='#2f5d8f', linewidths=0)
ax_d.scatter(up[:, 0], up[:, 1], s=3.5, c='#d01010', linewidths=0)
ax_d.axvline(-2, color='#333333', ls=(0, (2, 2)), lw=.7)
ax_d.axvline(2, color='#333333', ls=(0, (2, 2)), lw=.7)
ax_d.axhline(1.3, color='#888888', ls=(0, (2, 2)), lw=.6)
for name, gx, gy in zip(d_gene, d_gene_x, d_gene_y):
    ax_d.text(gx, gy, name, fontsize=4.8, color='#4a6d9a', ha='center', va='center')
for name, gx, gy in zip(u_gene, u_gene_x, u_gene_y):
    ax_d.text(gx, gy, name, fontsize=4.8, color='#d83030', ha='center', va='center')
ax_d.set_xticks([-5, -2.5, 0, 2.5])
ax_d.set_xticklabels(['-5.0', '-2.5', '0.0', '2.5'])
ax_d.set_yticks([0, 10, 20, 30, 40, 50])
ax_d.tick_params(labelsize=5.6, length=2, width=.5, colors='#555555', pad=1.5)
for s in ax_d.spines.values():
    s.set_color('#999999')
    s.set_linewidth(.8)
txt(1091, 26, 'treated VS control', size=12, ha='center', fontweight='bold')
txt(1082, 252, 'log2FoldChange', size=6.4, ha='center', color='#333333')
txt(971, 137, '-log10(p-value)', size=6.4, ha='center', rotation=90, color='#333333')
txt(1186, 122, 'type', size=6, color='#333333')
for name, c, ly in zip(['down', 'noSig', 'up'], ['#2f5d8f', '#bbbbbb', '#d01010'], [133, 143, 152]):
    over.scatter([1190], [ly], s=3, c=c, linewidths=0)
    txt(1200, ly, name, size=4.8, color='#333333')

# e
e_cmap = LinearSegmentedColormap.from_list('e', ['#3a3aff', '#ffffff', '#ff0000'])


def bubble(box, terms, vals, counts, xmax, xstep, vmin, vmax, rfun, cbox, ticks, fmt, count_labs, count_r, cpos):
    ax = px_axes(*box)
    norm = Normalize(vmin, vmax)
    radii = [rfun(c) for c in counts]
    ax.scatter(vals, range(len(vals)), s=[(2 * r * .72) ** 2 for r in radii], c=vals, cmap=e_cmap, norm=norm, linewidths=0, zorder=3)
    ax.set_xlim(0, xmax)
    ax.set_ylim(7.9, -.9)
    ax.set_yticks(range(len(terms)))
    ax.set_yticklabels(terms, fontsize=6.85, color='#222222')
    ax.set_xticks(np.arange(0, xmax + .1, xstep))
    ax.tick_params(axis='x', labelsize=6, width=.9, length=3, pad=2)
    ax.tick_params(axis='y', width=.9, length=3, pad=1.5)
    for t in ax.get_xticklabels():
        t.set_fontweight('bold')
    for s in ax.spines.values():
        s.set_linewidth(1)
    cax = px_axes(*cbox)
    cb = fig.colorbar(ScalarMappable(norm, e_cmap), cax=cax, ticks=ticks)
    cb.ax.set_yticklabels([fmt % t for t in ticks])
    cb.ax.tick_params(labelsize=6.8, length=2, width=.5, pad=3, labelcolor='#222222')
    cb.outline.set_edgecolor('#555555')
    cb.outline.set_linewidth(.4)
    for lab, r, ly in zip(count_labs, count_r, cpos[2]):
        over.scatter([cpos[0]], [ly], s=(2 * r * .72) ** 2, c='black', linewidths=0)
        txt(cpos[1], ly, lab, size=6.8, color='#222222')


bubble((268, 356, 385, 462), e1_terms, e1_p, e1_count, 10, 2, 4.78, 6.74, lambda c: 3 + (c - 7) * 4 / 27,
       (413, 357, 427, 463), [5, 5.5, 6, 6.5], '%.1f', ['7.00', '15.43', '34.00'], [3, 4.6, 7], (475, 487, [362, 376, 391]))
bubble((273, 534, 392, 642), e2_terms, e2_p, e2_count, 15, 5, 7.41, 11.37, lambda c: 4 + (c - 18) * .05,
       (421, 536, 435, 644), [8, 9, 10, 11], '%d', ['18.00', '21.63', '26.00'], [4, 4.2, 4.4], (481, 493, [541, 555, 569]))
txt(349, 327, 'Enrichment  analysis of downregulated  genes', size=8.8, ha='center', color='#222222')
txt(349, 505, 'Enrichment  analysis of upregulated  genes', size=8.8, ha='center', color='#222222')
txt(326, 488, '-Log10(P)', size=6.8, ha='center', fontweight='bold')
txt(332, 669, '-Log10(P)', size=6.8, ha='center', fontweight='bold')
txt(434, 347, '-Log10(P)', size=6.8, ha='center', color='#222222')
txt(479, 347, 'Count', size=6.8, ha='center', color='#222222')
txt(442, 525, '-Log10(P)', size=6.8, ha='center', color='#222222')
txt(489, 525, 'Count', size=6.8, ha='center', color='#222222')

# f, g, nk, h, i
heat_panel(541, 686, 525, [(f_vals1, f_genes1, 323, 458), (f_vals2, f_genes2, 460, 677)],
           'Oxidative Phosphorylation', (613, 313), (741, 322, 749, 413), title_size=8.2)
heat_panel(783, 929, 765, [(g_vals1, g_genes1, 312, 349), (g_vals2, g_genes2, 351, 423), (g_vals3, g_genes3, 424, 597)],
           'Cytokine Mediated Signaling', (856, 303), (962, 312, 968, 402), title_size=8.4)
heat_panel(779, 924, 763, [(nk_vals1, nk_genes1, 688, 762), (nk_vals2, nk_genes2, 763, 799)],
           'NK Differentiation', (852, 678), (960, 688, 966, 778), title_size=8.2)
heat_panel(1023, 1159, 1007, [(h_vals1, h_genes1, 287, 295), (h_vals2, h_genes2, 297, 894)],
           'MAPK', (1092, 278), (1205, 287, 1211, 372))
heat_panel(23, 174, 4, [(i_vals1, i_genes1, 749, 1093), (i_vals2, i_genes2, 1096, 1171)],
           'TGF-ß', (107, 736), (222, 749, 228, 842), title_size=10)

# j
ax_j = px_axes(279, 754, 643, 1118)
ax_j.set_xlim(-1.10, 1.105)
ax_j.set_ylim(-1.09, 1.105)
ax_j.set_xticks([-1, -.5, 0, .5, 1])
ax_j.set_yticks([-1, -.5, 0, .5, 1])
ax_j.set_xticklabels(['-1.0', '-0.5', '0.0', '0.5', '1.0'])
ax_j.set_yticklabels(['-1.0', '-0.5', '0.0', '0.5', '1.0'])
ax_j.set_xticks([-.75, -.25, .25, .75], minor=True)
ax_j.set_yticks([-.75, -.25, .25, .75], minor=True)
ax_j.grid(True, which='major', color='#eeeeee', lw=.7)
ax_j.grid(True, which='minor', color='#f4f4f4', lw=.4)
ax_j.set_axisbelow(True)
ax_j.tick_params(which='major', labelsize=4.6, length=2, width=.4, colors='#555555', pad=1)
ax_j.tick_params(which='minor', length=0)
for s in ax_j.spines.values():
    s.set_color('#888888')
    s.set_linewidth(.9)
txt(461, 1133, 'x', size=5, ha='center', color='#333333')
txt(261, 937, 'y', size=5, ha='center', rotation=90, color='#333333')
for g in range(len(parent_names)):
    ax_j.plot([0, parent_x[g]], [0, parent_y[g]], color='#eda23c', alpha=.3, lw=.7)
i_leaf = 0
n_leaf = len(leaf_names)
for g, cnt in enumerate(group_counts):
    c = group_colors[g]
    px_, py_ = parent_x[g], parent_y[g]
    pr = np.hypot(px_, py_)
    ax_j.add_patch(Circle((px_, py_), parent_size[g] / 100, fc=c, ec='none', alpha=.35, zorder=2))
    for i in range(i_leaf, i_leaf + cnt):
        ang = np.deg2rad(6 + i * 360 / n_leaf)
        lx, ly = np.sin(ang), np.cos(ang)
        ax_j.add_patch(PathPatch(Path([(px_, py_), (lx * pr, ly * pr), (lx, ly)], [Path.MOVETO, Path.CURVE3, Path.CURVE3]),
                                 fc='none', ec=c, alpha=.18, lw=.45, zorder=1.5))
        ax_j.add_patch(Circle((lx, ly), leaf_size[i] / 100, fc=c, ec='none', alpha=.33, zorder=2))
        deg = 90 - np.rad2deg(ang)
        if lx < 0:
            deg += 180
        ax_j.text(lx * 1.01, ly * 1.01, leaf_names[i], fontsize=4.6, color=c, alpha=.75, rotation=deg,
                  rotation_mode='anchor', ha='center', va='center', zorder=3)
    i_leaf += cnt
    ax_j.text(px_, py_, parent_names[g], fontsize=5.7, color=c, ha='center', va='center', zorder=4)
ax_j.text(0, 0, 'GO', fontsize=5.6, color='#e58700', ha='center', va='center', zorder=4)
txt(470, 742, 'LSC-Exo vs control', size=12, ha='center', fontweight='bold')
txt(650, 762, 'Fold Change', size=11.2, color='#222222')
for lab, r, ly in zip(fc_labels, [4, 9, 16], [796, 828, 865]):
    over.scatter([661], [ly], s=(2 * r * .72) ** 2, c='#a6a6a6', linewidths=0)
    txt(689, ly, lab, size=11, color='#222222')
for name, c, lx, ly in zip(j_legend1, group_colors, [248, 246, 248, 248, 247, 246], [1144, 1164, 1186, 1206, 1226, 1248]):
    txt(lx - 10, ly - 1, 'a', size=8, ha='center', color=c, fontweight='bold')
    txt(lx, ly, name, size=9.2, color='#111111')
for name, c, lx, ly in zip(j_legend2, group_colors[6:], [413, 412], [1157, 1177]):
    txt(lx - 10, ly - 2, 'a', size=8, ha='center', color=c, fontweight='bold')
    txt(lx, ly, name, size=9.2, color='#111111')

# k
k_mat = np.array([k_p1, k_p2, k_p3, k_e1, k_e2, k_e3, k_sham])
k_norm = TwoSlopeNorm(vmin=-1.27, vcenter=0, vmax=2.27)
ax_k = px_axes(736, 996, 1219, 1186)
ax_k.imshow(k_mat, cmap=hm_cmap, norm=k_norm, aspect='auto', interpolation='nearest')
for s in ax_k.spines.values():
    s.set_visible(False)
ax_k.set_yticks([])
ax_k.set_xticks(1.2 + 2 * np.arange(len(k_genes)))
ax_k.set_xticklabels(k_genes, rotation=90, fontsize=6.4, color='#444444')
ax_k.tick_params(length=0, pad=1.5)
ax_ks = px_axes(719, 996, 736, 1186)
ax_ks.imshow([[0], [0], [0], [1], [1], [1], [2]], cmap=ListedColormap(['#d93a14', '#e010e8', '#00ee00']), aspect='auto')
ax_ks.axis('off')
txt(727, 1037, 'PBS', size=6.2, ha='center', rotation=90, color='white')
txt(727, 1118, 'LSC-Exo', size=6.2, ha='center', rotation=90, color='white')
txt(727, 1172, 'sham', size=6.2, ha='center', rotation=90, color='black')
k_tree, k_p, k_h = cluster(k_mat)
draw_tree(k_tree, lambda p, h: (719 - 15 * (h / k_h) ** 1.2, 996 + (p + .5) * 190 / 7), color='#666666')
c_tree, c_p, c_h = cluster(k_mat.T)
draw_tree(c_tree, lambda p, h: (736 + (p + .5) * 483 / 64, 988 - 35 * (h / c_h) ** 1.8), color='#111111', lw=.9)
# the very many leaf stems read as a solid comb at this size
over.vlines(np.linspace(737, 1218, 150), 987, 996, color='#111111', lw=1.6)
cax_k = px_axes(802, 939, 885, 949)
cb_k = fig.colorbar(ScalarMappable(k_norm, hm_cmap), cax=cax_k, orientation='horizontal', ticks=[-1.27, 0, 2.27], spacing='proportional')
cb_k.ax.set_xticklabels(['-1.27', '0', '2.27'])
cb_k.ax.tick_params(length=0, labelsize=5.4, pad=2, labelcolor='#666666')
cb_k.outline.set_visible(False)
txt(843, 932, 'Z-score', size=6.4, ha='center', color='#555555')

fig.savefig('out.png', dpi=100)
